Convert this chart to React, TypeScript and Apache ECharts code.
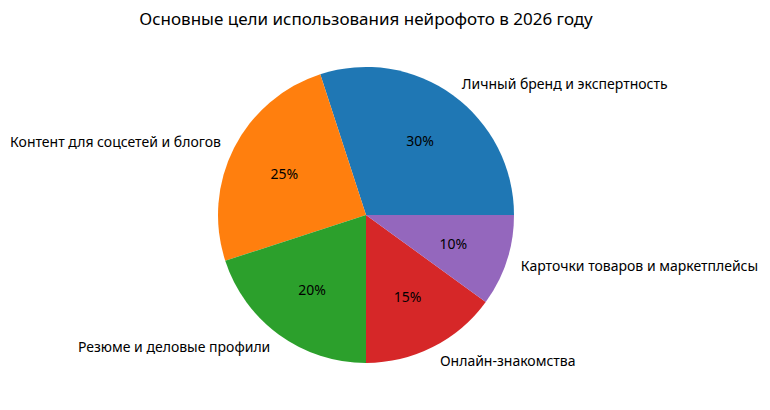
import React, { useEffect, useRef } from "react";
import * as echarts from "echarts";

const categories = [
  "Личный бренд и экспертность",
  "Контент для соцсетей и блогов",
  "Резюме и деловые профили",
  "Онлайн-знакомства",
  "Карточки товаров и маркетплейсы",
];
const values = [30, 25, 20, 15, 10];
const colors = ["#1f77b4", "#ff7f0e", "#2ca02c", "#d62728", "#9467bd"];
const title = "Основные цели использования нейрофото в 2026 году";

export default function App() {
  const ref = useRef<HTMLDivElement>(null);
  useEffect(() => {
    if (!ref.current) return;
    const chart = echarts.init(ref.current, null, { renderer: "svg" });
    const R = 148;
    const cx = 366;
    const cy = 215;
    const font = "Noto Sans";
    const data = categories.map((name, i) => ({
      name,
      value: values[i],
      itemStyle: { color: colors[i] },
    }));
    chart.setOption({
      animation: false,
      backgroundColor: "#ffffff",
      title: {
        text: title,
        left: 361,
        top: 5,
        textAlign: "center",
        textStyle: { fontFamily: font, fontSize: 17, fontWeight: "normal", color: "#000" },
      },
      series: [
        {
          type: "pie",
          center: [cx, cy],
          radius: [0, R],
          startAngle: 0,
          clockwise: false,
          avoidLabelOverlap: false,
          silent: true,
          data,
          itemStyle: { borderWidth: 0 },
          label: {
            show: true,
            position: "outside",
            distanceToLabelLine: 0,
            fontFamily: font,
            fontSize: 14,
            color: "#000",
            formatter: "{b}",
          },
          labelLine: { show: false, length: R * 0.1, length2: 0 },
          emphasis: { disabled: true },
        },
        {
          type: "pie",
          center: [cx, cy],
          radius: [0, R * 1.2],
          startAngle: 0,
          clockwise: false,
          avoidLabelOverlap: false,
          silent: true,
          z: 3,
          data: categories.map((name, i) => ({ name, value: values[i] })),
          itemStyle: { color: "rgba(0,0,0,0)", borderWidth: 0 },
          label: {
            show: true,
            position: "inside",
            fontFamily: font,
            fontSize: 14,
            color: "#000",
            formatter: (p: any) => `${values[p.dataIndex]}%`,
          },
          labelLine: { show: false },
          emphasis: { disabled: true },
        },
      ],
    });
    return () => chart.dispose();
  }, []);
  return (
    <div
      ref={ref}
      style={{ position: "fixed", left: 0, top: 0, width: 770, height: 410 }}
    />
  );
}
